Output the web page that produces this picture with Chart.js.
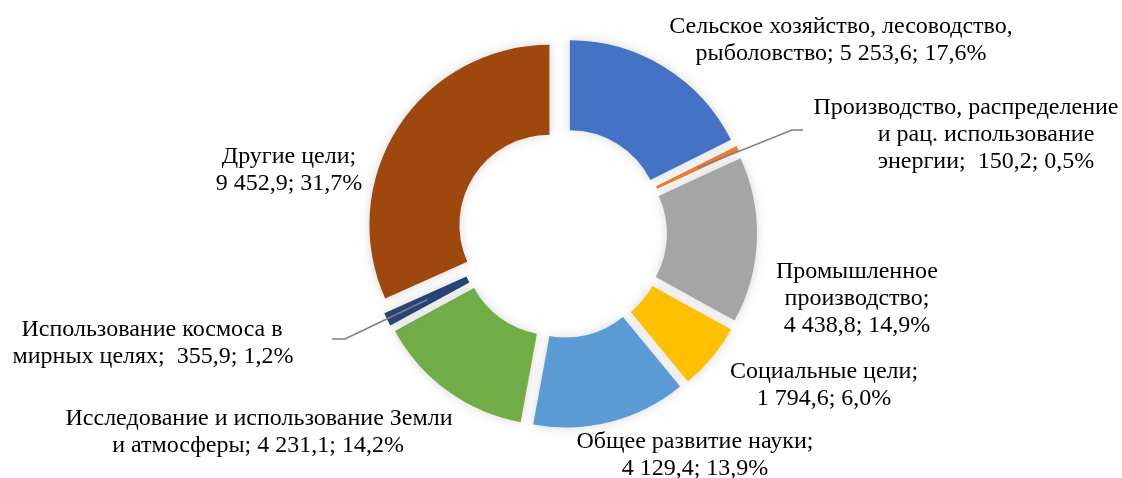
<!DOCTYPE html>
<html><head><meta charset="utf-8">
<script src="https://cdn.jsdelivr.net/npm/chart.js@4/dist/chart.umd.min.js"></script>
<style>html,body{margin:0;padding:0;background:#fff;} #wrap{width:1122px;height:478px;position:relative;}</style>
</head><body><div id="wrap"><canvas id="c" width="1122" height="478"></canvas></div>
<script>
// ---- data ----
const categories = [
  'Сельское хозяйство, лесоводство, рыболовство',
  'Производство, распределение и рац. использование энергии',
  'Промышленное производство',
  'Социальные цели',
  'Общее развитие науки',
  'Исследование и использование Земли и атмосферы',
  'Использование космоса в мирных целях',
  'Другие цели'
];
const values = [5253.6, 150.2, 4438.8, 1794.6, 4129.4, 4231.1, 355.9, 9452.9];
const labelLines = [
  ['Сельское хозяйство, лесоводство,', 'рыболовство; 5 253,6; 17,6%'],
  ['Производство, распределение', 'и рац. использование', 'энергии;  150,2; 0,5%'],
  ['Промышленное', 'производство;', '4 438,8; 14,9%'],
  ['Социальные цели;', '1 794,6; 6,0%'],
  ['Общее развитие науки;', '4 129,4; 13,9%'],
  ['Исследование и использование Земли', 'и атмосферы; 4 231,1; 14,2%'],
  ['Использование космоса в', 'мирных целях;  355,9; 1,2%'],
  ['Другие цели;', '9 452,9; 31,7%']
];
const colors = ['#4472C4', '#ED7D31', '#A5A5A5', '#FFC000', '#5B9BD5', '#70AD47', '#264478', '#9E480E'];

// ---- layout (text placement only) ----
const FONT = '24px "Liberation Serif", "Times New Roman", serif';
const LINE_H = 27;
const labelLayout = [
  {xs: [841, 841], y: 33},
  {xs: [966, 986, 986], y: 114},
  {xs: [857, 857, 857], y: 278},
  {xs: [824, 824], y: 378},
  {xs: [695, 695], y: 448},
  {xs: [259, 258], y: 425},
  {xs: [152, 153], y: 336},
  {xs: [289, 289], y: 163}
];
const leaders = {
  1: [[792, 130], [803, 130]],
  6: [[345, 339], [332, 339]]
};
const EXPLODE = 15;

const explodePlugin = {
  id: 'explodeDraw',
  beforeDatasetsDraw(chart) {
    const ctx = chart.ctx;
    const meta = chart.getDatasetMeta(0);
    ctx.save();
    ctx.shadowColor = 'rgba(0,0,0,0.16)';
    ctx.shadowBlur = 12;
    meta.data.forEach(arc => {
      const mid = (arc.startAngle + arc.endAngle) / 2;
      ctx.save();
      ctx.translate(Math.cos(mid) * EXPLODE, Math.sin(mid) * EXPLODE);
      arc.draw(ctx);
      ctx.restore();
    });
    ctx.restore();
    return false;
  }
};

const labelPlugin = {
  id: 'labels',
  afterDraw(chart) {
    const ctx = chart.ctx;
    const meta = chart.getDatasetMeta(0);
    ctx.save();
    ctx.strokeStyle = '#7F7F7F';
    ctx.lineWidth = 1.5;
    Object.keys(leaders).forEach(k => {
      const arc = meta.data[+k];
      const mid = (arc.startAngle + arc.endAngle) / 2;
      const r = EXPLODE + (arc.innerRadius + arc.outerRadius) / 2;
      const sx = arc.x + Math.cos(mid) * r, sy = arc.y + Math.sin(mid) * r;
      ctx.beginPath();
      ctx.moveTo(sx, sy);
      leaders[k].forEach(p => ctx.lineTo(p[0], p[1]));
      ctx.stroke();
    });
    ctx.fillStyle = '#000';
    ctx.font = FONT;
    ctx.textAlign = 'center';
    ctx.textBaseline = 'alphabetic';
    labelLines.forEach((lines, i) => {
      const L = labelLayout[i];
      lines.forEach((t, j) => ctx.fillText(t, L.xs[j], L.y + j * LINE_H));
    });
    ctx.restore();
  }
};

new Chart(document.getElementById('c'), {
  type: 'doughnut',
  data: {
    labels: categories,
    datasets: [{
      data: values,
      backgroundColor: colors,
      borderWidth: 0
    }]
  },
  options: {
    responsive: false,
    animation: false,
    radius: 180,
    cutout: '50%',
    layout: {padding: {left: 312, right: 310, top: 33, bottom: 45}},
    plugins: {legend: {display: false}, tooltip: {enabled: false}}
  },
  plugins: [explodePlugin, labelPlugin]
});
</script>
</body></html>
